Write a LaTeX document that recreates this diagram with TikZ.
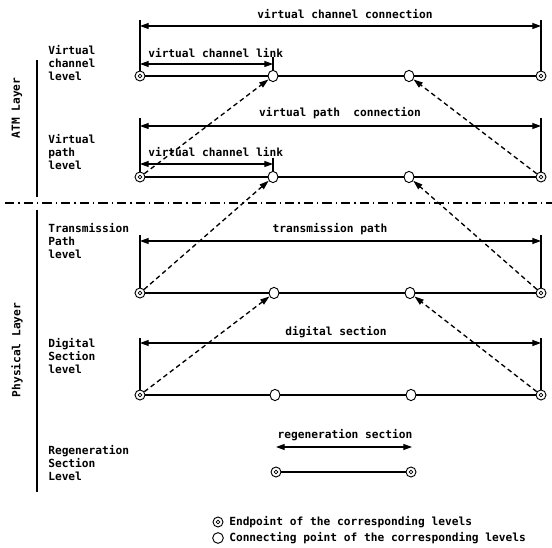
\documentclass[tikz,border=0pt]{standalone}
\usepackage{fontspec}
\newfontfamily\lblfont{DejaVu Sans Mono}
\usetikzlibrary{arrows.meta,shapes.geometric}
\begin{document}
\begin{tikzpicture}[x=0.75pt,y=-0.75pt,
  lbl/.style={font=\lblfont\bfseries\fontsize{8.4}{9.75}\selectfont, inner sep=0pt},
  lvl/.style={lbl, align=left, anchor=west},
  endpt/.style={circle, draw, line width=0.7pt, fill=white, minimum size=7.5pt, inner sep=0pt,
    path picture={\draw[line width=0.6pt] (path picture bounding box.center) circle (1.4pt);}},
  conn/.style={ellipse, draw, line width=0.7pt, fill=white, minimum width=7.5pt, minimum height=8.5pt, inner sep=0pt},
  mainline/.style={line width=0.8pt},
  dim/.style={line width=0.8pt, {Triangle[length=6.5pt,width=4.5pt]}-{Triangle[length=6.5pt,width=4.5pt]}},
  dasharrow/.style={line width=1pt, dash pattern=on 3.5pt off 2.5pt, -{Triangle[length=7pt,width=4.5pt]}},
  sep/.style={line width=0.8pt, dash pattern=on 7pt off 3pt on 1pt off 3pt},
]
\useasboundingbox (0,0) rectangle (552,548);

% layer labels and lines
\node[lbl, rotate=90] (atm) at (17,108) {ATM Layer};
\node[lbl, rotate=90] (phy) at (17,350) {Physical Layer};
\coordinate (atm-t) at (37,60); \coordinate (atm-b) at (37,197);
\coordinate (phy-t) at (37,210); \coordinate (phy-b) at (37,492);
\draw[mainline] (atm-t) -- (atm-b);
\draw[mainline] (phy-t) -- (phy-b);
\coordinate (sep-l) at (5,203); \coordinate (sep-r) at (552,203);
\draw[sep] (sep-l) -- (sep-r);

% level labels
\node[lvl] (lvc) at (48,63) {Virtual\\channel\\level};
\node[lvl] (lvp) at (48,152) {Virtual\\path\\level};
\node[lvl] (ltp) at (48,241) {Transmission\\Path\\level};
\node[lvl] (lds) at (48,356) {Digital\\Section\\level};
\node[lvl] (lrs) at (48,463) {Regeneration\\Section\\Level};

% ---- virtual channel level
\node[endpt] (vc-l) at (140,76) {};
\node[conn] (vc-c1) at (273,76) {};
\node[conn] (vc-c2) at (409,76) {};
\node[endpt] (vc-r) at (541,76) {};
\draw[mainline] (vc-l) -- (vc-c1) -- (vc-c2) -- (vc-r);
\coordinate (vc-tl) at (140,20); \coordinate (vc-tr) at (541,20);
\draw[mainline] (vc-tl) -- (vc-l);
\draw[mainline] (vc-tr) -- (vc-r);
\coordinate (vc-al) at (140,26); \coordinate (vc-ar) at (541,26);
\draw[dim] (vc-al) -- (vc-ar);
\node[lbl] (vc-t) at (345,14) {virtual channel connection};
\coordinate (vc-kl) at (140,64); \coordinate (vc-kr) at (273,64);
\draw[dim] (vc-kl) -- (vc-kr);
\coordinate (vc-tick) at (273,57);
\draw[mainline] (vc-tick) -- (vc-c1);
\node[lbl, anchor=west] (vc-k) at (148,53) {virtual channel link};

% ---- virtual path level
\node[endpt] (vp-l) at (140,177) {};
\node[conn] (vp-c1) at (273,177) {};
\node[conn] (vp-c2) at (409,177) {};
\node[endpt] (vp-r) at (541,177) {};
\draw[mainline] (vp-l) -- (vp-c1) -- (vp-c2) -- (vp-r);
\coordinate (vp-tl) at (140,118); \coordinate (vp-tr) at (541,118);
\draw[mainline] (vp-tl) -- (vp-l);
\draw[mainline] (vp-tr) -- (vp-r);
\coordinate (vp-al) at (140,126); \coordinate (vp-ar) at (541,126);
\draw[dim] (vp-al) -- (vp-ar);
\node[lbl] (vp-t) at (340,113) {virtual path\ \ connection};
\coordinate (vp-kl) at (140,164); \coordinate (vp-kr) at (273,164);
\draw[dim] (vp-kl) -- (vp-kr);
\coordinate (vp-tick) at (273,158);
\draw[mainline] (vp-tick) -- (vp-c1);
\node[lbl, anchor=west] (vp-k) at (148,152) {virtúal channel link};

% ---- transmission path level
\node[endpt] (tp-l) at (140,293) {};
\node[conn] (tp-c1) at (274,293) {};
\node[conn] (tp-c2) at (410,293) {};
\node[endpt] (tp-r) at (541,293) {};
\draw[mainline] (tp-l) -- (tp-c1) -- (tp-c2) -- (tp-r);
\coordinate (tp-tl) at (140,235); \coordinate (tp-tr) at (541,235);
\draw[mainline] (tp-tl) -- (tp-l);
\draw[mainline] (tp-tr) -- (tp-r);
\coordinate (tp-al) at (140,241); \coordinate (tp-ar) at (541,241);
\draw[dim] (tp-al) -- (tp-ar);
\node[lbl] (tp-t) at (330,229) {transmission path};

% ---- digital section level
\node[endpt] (ds-l) at (140,395) {};
\node[conn] (ds-c1) at (275,395) {};
\node[conn] (ds-c2) at (411,395) {};
\node[endpt] (ds-r) at (541,395) {};
\draw[mainline] (ds-l) -- (ds-c1) -- (ds-c2) -- (ds-r);
\coordinate (ds-tl) at (140,338); \coordinate (ds-tr) at (541,338);
\draw[mainline] (ds-tl) -- (ds-l);
\draw[mainline] (ds-tr) -- (ds-r);
\coordinate (ds-al) at (140,343); \coordinate (ds-ar) at (541,343);
\draw[dim] (ds-al) -- (ds-ar);
\node[lbl] (ds-t) at (336,332) {digital section};

% ---- regeneration section level
\node[endpt] (rs-l) at (276,472) {};
\node[endpt] (rs-r) at (411,472) {};
\draw[mainline] (rs-l) -- (rs-r);
\coordinate (rs-al) at (276,447); \coordinate (rs-ar) at (412,447);
\draw[dim] (rs-al) -- (rs-ar);
\node[lbl] (rs-t) at (345,435) {regeneration section};

% ---- dashed relations
\draw[dasharrow] (vp-l) -- (vc-c1);
\draw[dasharrow] (vp-r) -- (vc-c2);
\draw[dasharrow] (tp-l) -- (vp-c1);
\draw[dasharrow] (tp-r) -- (vp-c2);
\draw[dasharrow] (ds-l) -- (tp-c1);
\draw[dasharrow] (ds-r) -- (tp-c2);

% ---- legend
\node[endpt] (lg1) at (218,522) {};
\node[conn, minimum width=8pt, minimum height=8pt] (lg2) at (218,538) {};
\node[lbl, anchor=west] (lg1t) at (229,522) {Endpoint of the corresponding levels};
\node[lbl, anchor=west] (lg2t) at (229,538) {Connecting point of the corresponding levels};
\end{tikzpicture}
\end{document}
